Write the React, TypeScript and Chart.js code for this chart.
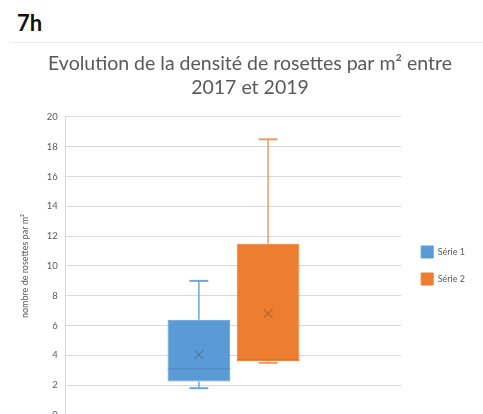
import React, { useEffect, useRef } from 'react';
import { Chart, registerables } from 'chart.js';

Chart.register(...registerables);

const categories = [''];
const seriesNames = ['Série 1', 'Série 2'];
const minValues = [1.8, 3.5];
const q1Values = [2.25, 3.6];
const medianValues = [3.1, 3.7];
const q3Values = [6.4, 11.5];
const maxValues = [9, 18.5];
const meanValues = [4.05, 6.8];
const yMin = 0;
const yMax = 20;
const yStep = 2;

const colors = ['#5B9BD5', '#ED7D31'];
const darkColors = ['#41719C', '#B05A20'];
const whiskerColors = ['#6FA6DA', '#F09A62'];

const boxPlugin = {
  id: 'boxWhiskers',
  afterDatasetsDraw(chart: any) {
    const ctx = chart.ctx;
    const y = chart.scales.y;
    const px = (v: number) => y.getPixelForValue(v);
    chart.data.datasets.forEach((_ds: any, i: number) => {
      const meta = chart.getDatasetMeta(i);
      const bar = meta.data[0];
      if (!bar) return;
      const { x, width } = bar.getProps(['x', 'width'], true);
      const capW = width * 0.3;
      const line = (x1: number, y1: number, x2: number, y2: number) => {
        ctx.beginPath();
        ctx.moveTo(x1, y1);
        ctx.lineTo(x2, y2);
        ctx.stroke();
      };
      ctx.save();
      ctx.strokeStyle = whiskerColors[i];
      ctx.lineWidth = 1.5;
      line(x, px(q3Values[i]), x, px(maxValues[i]));
      line(x, px(q1Values[i]), x, px(minValues[i]));
      ctx.lineWidth = 2;
      line(x - capW / 2, px(maxValues[i]), x + capW / 2, px(maxValues[i]));
      line(x - capW / 2, px(minValues[i]), x + capW / 2, px(minValues[i]));
      ctx.strokeStyle = darkColors[i];
      ctx.globalAlpha = 0.4;
      ctx.lineWidth = 1.2;
      line(x - width / 2, px(medianValues[i]), x + width / 2, px(medianValues[i]));
      ctx.globalAlpha = 0.75;
      ctx.lineWidth = 1.2;
      const my = px(meanValues[i]);
      const s = 4.5;
      line(x - s, my - s, x + s, my + s);
      line(x - s, my + s, x + s, my - s);
      ctx.restore();
    });
  },
};

const layoutShift = {
  id: 'layoutShift',
  afterLayout(chart: any) {
    if (chart.legend) {
      chart.legend.left += 5;
      chart.legend.right += 5;
      chart.legend.top += 58;
      chart.legend.bottom += 58;
    }
    if (chart.titleBlock) {
      chart.titleBlock.left += 6;
      chart.titleBlock.right += 6;
    }
  },
};

export default function App() {
  const ref = useRef<HTMLCanvasElement | null>(null);
  useEffect(() => {
    if (!ref.current) return;
    const chart = new Chart(ref.current, {
      type: 'bar',
      data: {
        labels: categories,
        datasets: seriesNames.map((name, i) => ({
          label: name,
          data: [[q1Values[i], q3Values[i]]] as any,
          backgroundColor: colors[i],
          borderColor: colors[i],
          borderWidth: 1,
          borderSkipped: false,
          categoryPercentage: 0.4125,
          barPercentage: 0.906,
        })),
      },
      options: {
        animation: false,
        responsive: false,
        layout: { padding: { top: 0, left: 18, right: 13, bottom: 25 } },
        plugins: {
          title: {
            display: true,
            text: ['Evolution de la densité de rosettes par m² entre', '2017 et 2019'],
            color: '#595959',
            font: { family: 'Lato', size: 19.5, weight: 'normal', lineHeight: 1.23 },
            padding: { top: 52, bottom: 17 },
          },
          legend: {
            position: 'right',
            labels: {
              color: '#595959',
              font: { family: 'Lato', size: 9 },
              boxWidth: 12,
              boxHeight: 12,
              padding: 15,
            },
          },
          tooltip: { enabled: false },
        },
        scales: {
          x: { display: false },
          y: {
            min: yMin,
            max: yMax,
            ticks: {
              stepSize: yStep,
              color: '#595959',
              font: { family: 'Lato', size: 9.5 },
              padding: 8,
            },
            grid: { color: '#D9D9D9', drawTicks: false },
            border: { display: true, color: '#D9D9D9' },
            title: {
              display: true,
              text: 'nombre de rosettes par m²',
              color: '#595959',
              font: { family: 'Lato', size: 9 },
              padding: { top: 2, bottom: 8 },
            },
          },
        },
      },
      plugins: [boxPlugin, layoutShift],
    });
    return () => chart.destroy();
  }, []);
  return (
    <div style={{ position: 'absolute', left: 0, top: 0, width: 483, height: 440, background: '#fff', overflow: 'hidden' }}>
      <div
        style={{
          position: 'absolute',
          left: 17,
          top: 8,
          fontFamily: 'Lato',
          fontWeight: 'bold',
          fontSize: 22,
          lineHeight: '30px',
          color: '#111',
        }}
      >
        7h
      </div>
      <div style={{ position: 'absolute', left: 10, right: 0, top: 42, height: 1, background: '#EBEBEB' }} />
      <canvas ref={ref} width={483} height={440} style={{ position: 'absolute', left: 0, top: 0 }} />
    </div>
  );
}
